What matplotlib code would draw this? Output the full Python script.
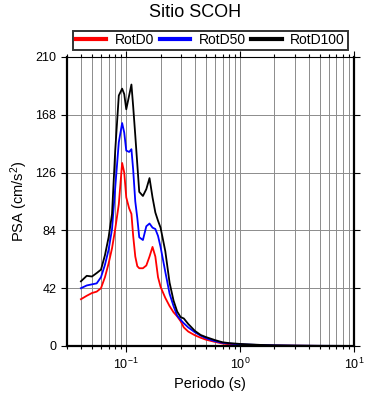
# Espectros de respuesta del sitio SCOH
import numpy as np
import matplotlib
matplotlib.use("Agg")
import matplotlib.pyplot as plt
from matplotlib.ticker import LogLocator, NullFormatter

plt.rcParams['font.family'] = ['Liberation Sans', 'DejaVu Sans']
plt.rcParams['mathtext.fontset'] = 'custom'
plt.rcParams['mathtext.rm'] = 'Liberation Sans'
plt.rcParams['mathtext.it'] = 'Liberation Sans:italic'

# Periodos (s)
periodo = [0.04, 0.045, 0.05, 0.055, 0.06, 0.065, 0.07, 0.075, 0.08, 0.086,
           0.092, 0.096, 0.10, 0.106, 0.111, 0.115, 0.12, 0.125, 0.13, 0.14,
           0.15, 0.16, 0.17, 0.18, 0.19, 0.20, 0.22, 0.24, 0.26, 0.28,
           0.30, 0.32, 0.35, 0.40, 0.45, 0.50, 0.60, 0.70, 0.80, 1.0,
           1.5, 2.0, 3.0, 4.0, 5.0, 7.5, 10.0]

# PSA (cm/s2)
rotd0 = [34, 36.5, 38.5, 39.5, 42, 50, 60, 71, 85, 103,
         133, 126, 108, 100, 96, 80, 65, 58, 56.5, 56.5,
         58.5, 65, 72, 65, 50, 43, 35, 29, 24.5, 21.5,
         18, 13.5, 10.5, 7.8, 6, 4.6, 3, 1.8, 1.2, 0.9,
         0.5, 0.3, 0.2, 0.12, 0.08, 0.05, 0.03]
rotd50 = [42, 44, 44.8, 45.5, 50, 59, 70, 85, 115, 148,
          162, 155, 142, 141, 143, 128, 105, 93, 79, 77,
          87, 89, 86, 85, 80, 72, 54, 38, 29, 22,
          19, 16.5, 13.5, 10, 7.5, 5.7, 3.5, 2.3, 1.8, 1.2,
          0.7, 0.45, 0.25, 0.18, 0.12, 0.08, 0.04]
rotd100 = [47, 51, 50.5, 53, 55.5, 66, 79, 96, 142, 182,
           187, 183, 172, 182, 190, 174, 153, 132, 112, 109,
           114, 122, 108, 97, 91, 86, 69, 46, 33, 25,
           21, 20, 16, 11, 8, 6.5, 4.3, 2.7, 2.1, 1.5,
           0.8, 0.5, 0.3, 0.2, 0.15, 0.1, 0.05]

yticks = [0, 42, 84, 126, 168, 210]

fig = plt.figure(figsize=(3.9, 4.0), dpi=100)
ax = fig.add_axes([0.171, 0.135, 0.737, 0.7225])

ax.plot(periodo, rotd0, color="red", lw=1.3, label="RotD0")
ax.plot(periodo, rotd50, color="blue", lw=1.3, label="RotD50")
ax.plot(periodo, rotd100, color="black", lw=1.3, label="RotD100")

ax.set_xscale("log")
ax.set_xlim(0.03, 10)
ax.set_ylim(0, 210)
ax.set_yticks(yticks)
ax.xaxis.set_minor_locator(LogLocator(base=10, subs=np.arange(2, 10)))
ax.xaxis.set_minor_formatter(NullFormatter())

ax.grid(True, which="both", axis="x", color="#8c8c8c", lw=0.7)
ax.grid(True, which="major", axis="y", color="#8c8c8c", lw=0.7)
ax.set_axisbelow(True)

ax.tick_params(which="both", direction="out", top=True, right=True,
               labelsize=9, width=0.8)
ax.tick_params(which="major", length=4)
ax.tick_params(which="minor", length=2.5)
for lado in ["left", "bottom", "right"]:
    ax.spines[lado].set_linewidth(1.6)
ax.spines["top"].set_linewidth(0.8)

ax.set_xlabel("Periodo (s)", fontsize=10.5)
ax.set_ylabel("PSA (cm/s$^2$)", fontsize=10.5)

leg = ax.legend(loc="lower left", bbox_to_anchor=(0.022, 1.024, 0.955, 0.076),
                mode="expand", ncol=3, fontsize=10, frameon=True,
                fancybox=False, handlelength=2.2, borderpad=0.2,
                borderaxespad=0, handletextpad=0.6)
leg.get_frame().set_edgecolor("black")
leg.get_frame().set_linewidth(1.4)
for linea in leg.get_lines():
    linea.set_linewidth(3)

fig.text(0.5, 0.968, "Sitio SCOH", ha="center", va="center", fontsize=13)

fig.savefig("out.png", dpi=100)
